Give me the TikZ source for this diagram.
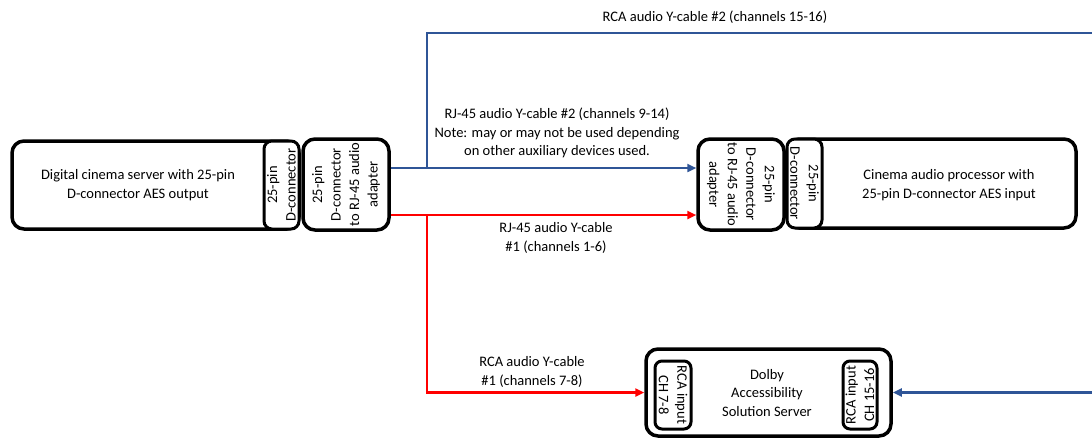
\documentclass[tikz,border=0pt]{standalone}
\usepackage{fontspec}
\setmainfont{Carlito}
\usetikzlibrary{arrows.meta}
\definecolor{cblue}{RGB}{47,85,151}
\definecolor{cred}{RGB}{255,0,0}
\tikzset{
  box/.style={draw=black, line width=3.5pt, rounded corners=12pt, fill=white, inner sep=0pt, align=center},
  sbox/.style={draw=black, line width=3pt, rounded corners=7pt, fill=white, inner sep=0pt, align=center},
  lbl/.style={align=center, inner sep=0pt, font=\fontsize{14.5}{18.5}\selectfont},
  blueline/.style={draw=cblue, line width=2.6pt},
  redline/.style={draw=cred, line width=2.6pt},
  tip/.style={-{Triangle[length=9pt,width=8pt]}}
}
\begin{document}
\begin{tikzpicture}[x=1pt,y=-1pt, font=\fontsize{14.5}{18.5}\selectfont]
\useasboundingbox (0,0) rectangle (1092,439);
% coordinates
\coordinate (bj) at (427,168);
\coordinate (rj) at (427,215);
\coordinate (btr) at (1102,33);
\coordinate (rb) at (427,393);

% server
\node[box, minimum width=287pt, minimum height=88pt] (server) at (155.5,185) {};
\node[lbl] (servertxt) at (138,185) {Digital cinema server with 25-pin\\D-connector AES output};
\node[box, line width=3pt, rounded corners=8pt, minimum width=35pt, minimum height=88pt] (servconn) at (281.5,185) {};
\node[lbl, rotate=90] (servconntxt) at (281.5,185) {25-pin\\D-connector};
% left adapter
\node[box, minimum width=86pt, minimum height=91pt] (adapterL) at (346,184.5) {};
\node[lbl, rotate=90] (adapterLtxt) at (346,184.5) {25-pin\\D-connector\\to RJ-45 audio\\adapter};

% processor
\node[box, minimum width=289pt, minimum height=89pt] (proc) at (931.5,183.5) {};
\node[lbl] (proctxt) at (949,185) {Cinema audio processor with\\25-pin D-connector AES input};
\node[box, line width=3pt, rounded corners=8pt, minimum width=35pt, minimum height=89pt] (procconn) at (804.5,183.5) {};
\node[lbl, rotate=-90] (procconntxt) at (804.5,183.5) {25-pin\\D-connector};
% right adapter
\node[box, minimum width=86pt, minimum height=91pt] (adapterR) at (741,184.5) {};
\node[lbl, rotate=-90] (adapterRtxt) at (741,184.5) {25-pin\\D-connector\\to RJ-45 audio\\adapter};

% Dolby
\node[box, minimum width=245pt, minimum height=87pt] (dolby) at (768.5,392.5) {};
\node[lbl] (dolbytxt) at (767,393) {Dolby\\Accessibility\\Solution Server};
\node[sbox, minimum width=36pt, minimum height=68pt] (rcaL) at (673,395) {};
\node[lbl, rotate=-90] (rcaLtxt) at (673,395) {RCA input\\CH 7-8};
\node[sbox, minimum width=34pt, minimum height=68pt] (rcaR) at (860,395) {};
\node[lbl, rotate=90] (rcaRtxt) at (860,395) {RCA input\\CH 15-16};

% connectors
\draw[blueline, tip] (adapterL.east |- bj) -- (adapterR.west |- bj);
\draw[blueline, tip] (bj) |- (btr) |- (dolby.east);
\draw[redline, tip] (adapterL.east |- rj) -- (adapterR.west |- rj);
\draw[redline, tip] (rj) |- (dolby.west);

% labels
\node[lbl] (l1) at (715,17) {RCA audio Y-cable \#2 (channels 15-16)};
\node[lbl] (l2) at (557,133) {RJ-45 audio Y-cable \#2 (channels 9-14)\\Note: may or may not be used depending\\on other auxiliary devices used.};
\node[lbl] (l3) at (556,238) {RJ-45 audio Y-cable\\\#1 (channels 1-6)};
\node[lbl] (l4) at (532,372) {RCA audio Y-cable\\\#1 (channels 7-8)};
\end{tikzpicture}
\end{document}
